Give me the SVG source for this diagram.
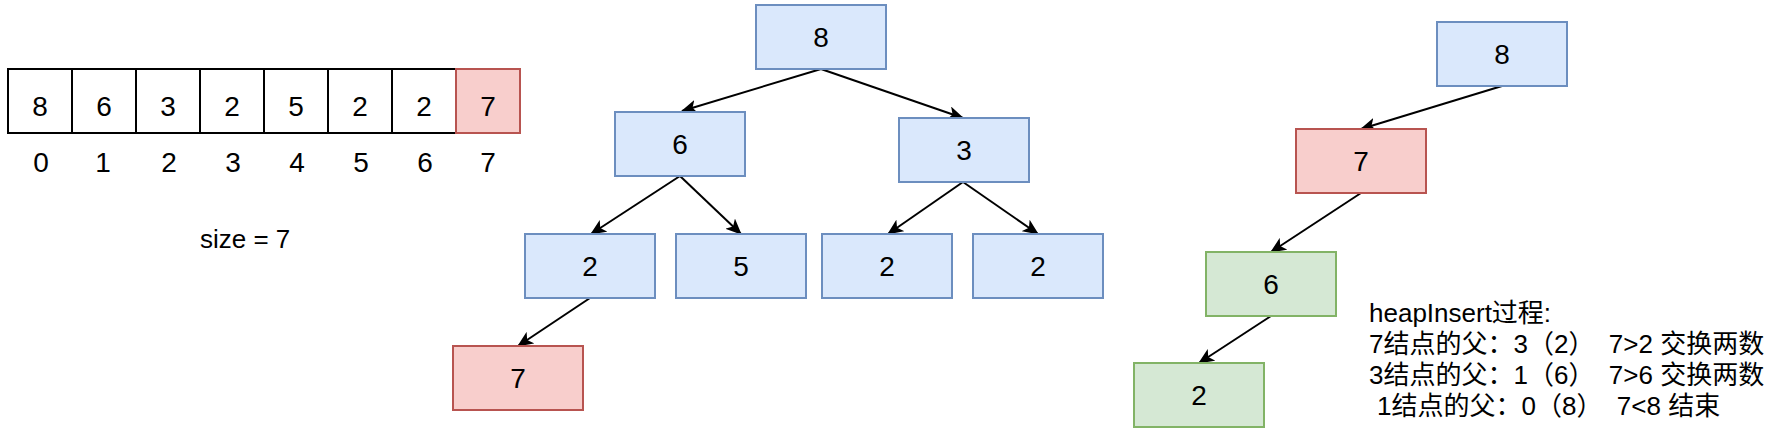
<svg xmlns="http://www.w3.org/2000/svg" width="1771" height="436" viewBox="0 0 1771 436">
<style>
text{font-family:"Liberation Sans","Noto Sans CJK SC",sans-serif;font-size:26px;fill:#000;}
.c{text-anchor:middle;font-size:28px;}
.cell{fill:#fff;stroke:#000;stroke-width:2;}
.blue{fill:#dae8fc;stroke:#6c8ebf;stroke-width:2;}
.red{fill:#f8cecc;stroke:#b85450;stroke-width:2;}
.green{fill:#d5e8d4;stroke:#82b366;stroke-width:2;}
.edge{stroke:#000;stroke-width:2;fill:none;marker-end:url(#arr);}
</style>
<defs>
<marker id="arr" markerUnits="userSpaceOnUse" markerWidth="16" markerHeight="14" viewBox="0 0 16 14" refX="15" refY="7" orient="auto">
<path d="M0,0 L16,7 L0,14 L4,7 Z" fill="#000"/>
</marker>
</defs>
<rect width="1771" height="436" fill="#fff"/>

<g id="array">
<rect class="cell" x="8" y="69" width="64" height="64"/>
<rect class="cell" x="72" y="69" width="64" height="64"/>
<rect class="cell" x="136" y="69" width="64" height="64"/>
<rect class="cell" x="200" y="69" width="64" height="64"/>
<rect class="cell" x="264" y="69" width="64" height="64"/>
<rect class="cell" x="328" y="69" width="64" height="64"/>
<rect class="cell" x="392" y="69" width="64" height="64"/>
<rect class="red" x="456" y="69" width="64" height="64"/>
<text class="c" x="40" y="116">8</text>
<text class="c" x="104" y="116">6</text>
<text class="c" x="168" y="116">3</text>
<text class="c" x="232" y="116">2</text>
<text class="c" x="296" y="116">5</text>
<text class="c" x="360" y="116">2</text>
<text class="c" x="424" y="116">2</text>
<text class="c" x="488" y="116">7</text>
</g>
<g id="indices">
<text class="c" x="41" y="172">0</text>
<text class="c" x="103" y="172">1</text>
<text class="c" x="169" y="172">2</text>
<text class="c" x="233" y="172">3</text>
<text class="c" x="297" y="172">4</text>
<text class="c" x="361" y="172">5</text>
<text class="c" x="425" y="172">6</text>
<text class="c" x="488" y="172">7</text>
</g>
<g id="size-label"><text x="200" y="248">size = 7</text></g>

<g id="connectors">
<line class="edge" x1="821" y1="69" x2="682" y2="111"/>
<line class="edge" x1="821" y1="69" x2="963" y2="118"/>
<line class="edge" x1="680" y1="176" x2="591" y2="234"/>
<line class="edge" x1="680" y1="176" x2="741" y2="234"/>
<line class="edge" x1="963" y1="182" x2="888" y2="234"/>
<line class="edge" x1="963" y1="182" x2="1038" y2="234"/>
<line class="edge" x1="590" y1="298" x2="518" y2="346"/>
<line class="edge" x1="1502" y1="86" x2="1361" y2="129"/>
<line class="edge" x1="1361" y1="193" x2="1271" y2="252"/>
<line class="edge" x1="1271" y1="316" x2="1199" y2="363"/>
</g>

<g id="t1-8"><rect class="blue" x="756" y="5" width="130" height="64"/><text class="c" x="821" y="47">8</text></g>
<g id="t1-6"><rect class="blue" x="615" y="112" width="130" height="64"/><text class="c" x="680" y="154">6</text></g>
<g id="t1-3"><rect class="blue" x="899" y="118" width="130" height="64"/><text class="c" x="964" y="160">3</text></g>
<g id="t1-2a"><rect class="blue" x="525" y="234" width="130" height="64"/><text class="c" x="590" y="276">2</text></g>
<g id="t1-5"><rect class="blue" x="676" y="234" width="130" height="64"/><text class="c" x="741" y="276">5</text></g>
<g id="t1-2b"><rect class="blue" x="822" y="234" width="130" height="64"/><text class="c" x="887" y="276">2</text></g>
<g id="t1-2c"><rect class="blue" x="973" y="234" width="130" height="64"/><text class="c" x="1038" y="276">2</text></g>
<g id="t1-7"><rect class="red" x="453" y="346" width="130" height="64"/><text class="c" x="518" y="388">7</text></g>

<g id="t2-8"><rect class="blue" x="1437" y="22" width="130" height="64"/><text class="c" x="1502" y="64">8</text></g>
<g id="t2-7"><rect class="red" x="1296" y="129" width="130" height="64"/><text class="c" x="1361" y="171">7</text></g>
<g id="t2-6"><rect class="green" x="1206" y="252" width="130" height="64"/><text class="c" x="1271" y="294">6</text></g>
<g id="t2-2"><rect class="green" x="1134" y="363" width="130" height="64"/><text class="c" x="1199" y="405">2</text></g>

<g id="notes">
<text x="1369" y="322">heapInsert过程:</text>
<text x="1369" y="353" xml:space="preserve">7结点的父：3（2）  7&gt;2 交换两数</text>
<text x="1369" y="384" xml:space="preserve">3结点的父：1（6）  7&gt;6 交换两数</text>
<text x="1377" y="415" xml:space="preserve">1结点的父：0（8）  7&lt;8 结束</text>
</g>
</svg>
